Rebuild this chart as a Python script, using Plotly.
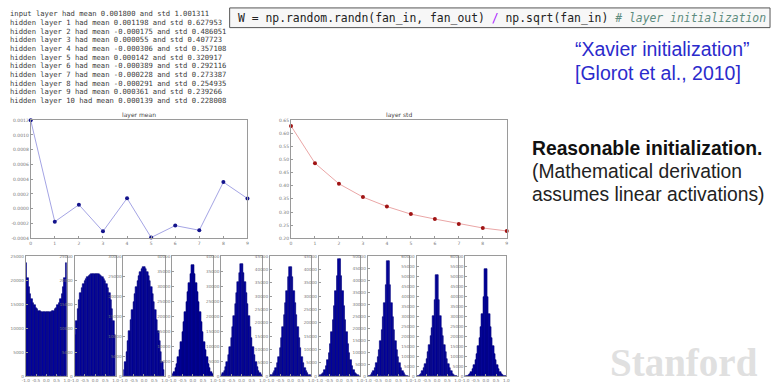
import plotly.graph_objects as go
import numpy as np

W, H = 777, 388

def px(x):
    return x / W

def py(y):
    return 1 - y / H

# ---------------- data ----------------
input_mean, input_std = 0.001800, 1.001311
layer_idx = [0, 1, 2, 3, 4, 5, 6, 7, 8, 9]
layer_means = [0.001198, -0.000175, 0.000055, -0.000306, 0.000142,
               -0.000389, -0.000228, -0.000291, 0.000361, 0.000139]
layer_stds = [0.627953, 0.486051, 0.407723, 0.357108, 0.320917,
              0.292116, 0.273387, 0.254935, 0.239266, 0.228008]

mean_ticks = [-0.0004, -0.0002, 0.0, 0.0002, 0.0004, 0.0006, 0.0008, 0.0010, 0.0012]
mean_ticktext = ["-0.0004", "-0.0002", "0.0000", "0.0002", "0.0004", "0.0006", "0.0008", "0.0010", "0.0012"]
std_ticks = [0.20, 0.25, 0.30, 0.35, 0.40, 0.45, 0.50, 0.55, 0.60, 0.65]
std_ticktext = ["0.20", "0.25", "0.30", "0.35", "0.40", "0.45", "0.50", "0.55", "0.60", "0.65"]

# histogram bin counts (30 bins over [-1, 1]) for each hidden layer
hist_counts = [
    [23500, 20500, 18500, 17000, 16000, 15300, 14700, 14200, 13900, 13600, 13500, 13400, 13400, 13300, 13300,
     13300, 13300, 13400, 13400, 13500, 13600, 13900, 14200, 14700, 15300, 16000, 17000, 18500, 20500, 23500],
    [8500, 11500, 14000, 15800, 17200, 18300, 19100, 19700, 20200, 20600, 20900, 21100, 21200, 21300, 21300,
     21300, 21300, 21200, 21100, 20900, 20600, 20200, 19700, 19100, 18300, 17200, 15800, 14000, 11500, 8500],
    [1500, 3500, 6000, 8800, 11300, 13900, 16400, 18600, 20500, 22200, 23700, 25000, 26000, 26800, 27300,
     27300, 26800, 26000, 25000, 23700, 22200, 20500, 18600, 16400, 13900, 11300, 8800, 6000, 3500, 1500],
    [800, 1500, 2600, 4200, 6300, 8700, 11500, 14600, 17900, 21300, 24700, 28000, 31100, 34000, 37000,
     37000, 34000, 31100, 28000, 24700, 21300, 17900, 14600, 11500, 8700, 6300, 4200, 2600, 1500, 800],
    [500, 1000, 1800, 3000, 4700, 6900, 9600, 12800, 16300, 20100, 24000, 27800, 31300, 34400, 37300,
     37300, 34400, 31300, 27800, 24000, 20100, 16300, 12800, 9600, 6900, 4700, 3000, 1800, 1000, 500],
    [250, 550, 1050, 1850, 3100, 4900, 7300, 10400, 14100, 18300, 22800, 27400, 31800, 37000, 41000,
     41000, 37000, 31800, 27400, 22800, 18300, 14100, 10400, 7300, 4900, 3100, 1850, 1050, 550, 250],
    [150, 350, 700, 1300, 2300, 3800, 5900, 8700, 12200, 16400, 21200, 26400, 31800, 37500, 43800,
     43800, 37500, 31800, 26400, 21200, 16400, 12200, 8700, 5900, 3800, 2300, 1300, 700, 350, 150],
    [100, 250, 550, 1100, 2000, 3400, 5300, 7800, 11000, 14800, 19300, 24500, 30500, 38000, 47800,
     47800, 38000, 30500, 24500, 19300, 14800, 11000, 7800, 5300, 3400, 2000, 1100, 550, 250, 100],
    [100, 250, 600, 1300, 2500, 4100, 6200, 8800, 11900, 15500, 19800, 24000, 30000, 38000, 50500,
     50500, 38000, 30000, 24000, 19800, 15500, 11900, 8800, 6200, 4100, 2500, 1300, 600, 250, 100],
    [80, 200, 450, 1000, 2000, 3500, 5500, 8000, 11100, 14800, 19200, 24300, 30800, 39500, 53500,
     53500, 39500, 30800, 24300, 19200, 14800, 11100, 8000, 5500, 3500, 2000, 1000, 450, 200, 80],
]
hist_ymax = [25000, 25000, 30000, 40000, 40000, 45000, 45000, 50000, 60000, 60000]
hist_xticks = [-1.0, -0.5, 0.0, 0.5, 1.0]
hist_xticktext = ["-1.0", "-0.5", "0.0", "0.5", "1.0"]

# ---------------- figure ----------------
fig = go.Figure()
layout = dict(
    width=W, height=H, margin=dict(l=0, r=0, t=0, b=0),
    paper_bgcolor="white", plot_bgcolor="white", showlegend=False,
    font=dict(family="DejaVu Sans", color="#666"),
    bargap=0,
    annotations=[], shapes=[],
)

axis_common = dict(showline=True, mirror=True, linecolor="#9a9a9a", linewidth=1,
                   showgrid=False, zeroline=False, ticks="inside", ticklen=2,
                   tickcolor="#9a9a9a", tickangle=0, tickfont=dict(size=4.5, color="#777"))

# mean plot
layout["xaxis"] = dict(domain=[px(27), px(246)], range=[0, 9], anchor="y",
                       tickvals=layer_idx, **axis_common)
layout["yaxis"] = dict(domain=[py(239), py(119)], range=[-0.0004, 0.0012], anchor="x",
                       tickvals=mean_ticks, ticktext=mean_ticktext, **axis_common)
fig.add_trace(go.Scatter(x=layer_idx, y=layer_means, mode="lines+markers",
                         line=dict(color="#a4a4e4", width=1),
                         marker=dict(color="#14148c", size=4),
                         xaxis="x", yaxis="y", cliponaxis=False))

# std plot
layout["xaxis2"] = dict(domain=[px(290), px(508)], range=[0, 9], anchor="y2",
                        tickvals=layer_idx, **axis_common)
layout["yaxis2"] = dict(domain=[py(239), py(119)], range=[0.20, 0.65], anchor="x2",
                        tickvals=std_ticks, ticktext=std_ticktext, **axis_common)
fig.add_trace(go.Scatter(x=layer_idx, y=layer_stds, mode="lines+markers",
                         line=dict(color="#eaa6a6", width=1),
                         marker=dict(color="#a01414", size=4),
                         xaxis="x2", yaxis="y2", cliponaxis=False))

layout["annotations"].append(dict(text="layer mean", x=px(136.5), y=py(114), xref="paper", yref="paper",
                                  xanchor="center", yanchor="middle",
                                  showarrow=False, font=dict(size=6, color="#444")))
layout["annotations"].append(dict(text="layer std", x=px(399), y=py(114), xref="paper", yref="paper",
                                  xanchor="center", yanchor="middle",
                                  showarrow=False, font=dict(size=6, color="#444")))

# histograms
edges = np.linspace(-1, 1, 31)
centers = (edges[:-1] + edges[1:]) / 2
hist_axis = dict(axis_common)
hist_axis["tickfont"] = dict(size=4.2, color="#777")
for k in range(10):
    left = 22 + k * 49.35
    right = left + 41.5
    xa = f"xaxis{k + 3}"
    ya = f"yaxis{k + 3}"
    layout[xa] = dict(domain=[px(left), px(right)], range=[-1, 1], anchor=f"y{k + 3}",
                      tickvals=hist_xticks, ticktext=hist_xticktext, **hist_axis)
    yt = list(range(0, hist_ymax[k] + 1, 5000))
    layout[ya] = dict(domain=[py(379), py(257)], range=[0, hist_ymax[k]], anchor=f"x{k + 3}",
                      tickvals=yt, ticktext=[str(v) for v in yt], **hist_axis)
    fig.add_trace(go.Bar(x=centers, y=hist_counts[k], width=2 / 30,
                         marker=dict(color="#0000a0", line=dict(color="#00007a", width=0.6)),
                         xaxis=f"x{k + 3}", yaxis=f"y{k + 3}"))

# console text lines
lines = [f"input layer had mean {input_mean:.6f} and std {input_std:.6f}"]
for i, (m, s) in enumerate(zip(layer_means, layer_stds)):
    lines.append(f"hidden layer {i + 1} had mean {m:.6f} and std {s:.6f}")
for j, t in enumerate(lines):
    layout["annotations"].append(dict(text=t, x=px(4), y=py(11 + j * 8.8), xref="paper", yref="paper",
                                      xanchor="left", yanchor="middle", showarrow=False,
                                      font=dict(family="DejaVu Sans Mono", size=7.2, color="#3a3a3a")))

# code box
layout["shapes"].append(dict(type="rect", xref="paper", yref="paper",
                             x0=px(228), x1=px(774), y0=py(25), y1=py(5),
                             fillcolor="#f7f7f7", line=dict(color="#555", width=1), layer="below"))
code = ('W = np.random.randn(fan_in, fan_out) <span style="color:#aa22ff">/</span> np.sqrt(fan_in) '
        '<i><span style="color:#5d8c7e"># layer initialization</span></i>')
layout["annotations"].append(dict(text=code, x=px(234), y=py(15.5), xref="paper", yref="paper",
                                  xanchor="left", yanchor="middle", showarrow=False,
                                  font=dict(family="DejaVu Sans Mono", size=11.4, color="#222")))

# right-hand slide text
blue = "#2b2bcc"
for t, yy in [("“Xavier initialization”", 47), ("[Glorot et al., 2010]", 71.5)]:
    layout["annotations"].append(dict(text=t, x=px(575), y=py(yy), xref="paper", yref="paper",
                                      xanchor="left", yanchor="middle", showarrow=False,
                                      font=dict(family="Liberation Sans", size=19.5, color=blue)))
for t, yy, col in [("<b>Reasonable initialization.</b>", 148, "#111"),
                   ("(Mathematical derivation", 171.5, "#222"),
                   ("assumes linear activations)", 195, "#222")]:
    layout["annotations"].append(dict(text=t, x=px(531), y=py(yy), xref="paper", yref="paper",
                                      xanchor="left", yanchor="middle", showarrow=False,
                                      font=dict(family="Liberation Sans", size=19.3, color=col)))
layout["annotations"].append(dict(text="<b>Stanford</b>", x=px(687), y=py(365), xref="paper", yref="paper",
                                  xanchor="center", yanchor="middle", showarrow=False,
                                  font=dict(family="Liberation Serif", size=39, color="#e0e0e0")))

fig.update_layout(**layout)
fig.write_html("out.html")
